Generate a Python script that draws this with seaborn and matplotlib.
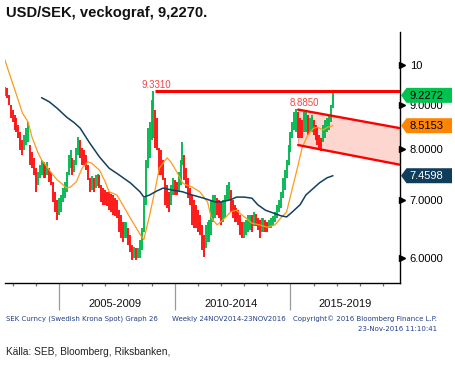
import numpy as np
import pandas as pd
import matplotlib
matplotlib.use("Agg")
import matplotlib.pyplot as plt
import seaborn as sns
from matplotlib import font_manager as fm
from matplotlib.patches import Polygon
from matplotlib.transforms import IdentityTransform, blended_transform_factory, ScaledTranslation
from matplotlib.ticker import NullLocator, FixedLocator

# ---------------- data ----------------
start_month = "2002-09-01"
highs = [9.43, 9.41, 9.24, 9.00,
         8.88, 8.76, 8.69, 8.53, 8.38, 8.20, 8.31, 8.46, 8.60, 8.09, 7.94, 7.82,
         7.61, 7.54, 7.68, 7.78, 7.74, 7.68, 7.74, 7.61, 7.54, 7.34, 7.15, 7.00,
         7.03, 7.09, 7.22, 7.34, 7.54, 7.88, 7.99, 7.82, 7.78, 8.03, 8.26, 8.20,
         8.03, 7.99, 7.88, 7.68, 7.42, 7.45, 7.42, 7.48, 7.50, 7.48, 7.28, 7.22,
         7.18, 7.15, 7.15, 7.11, 7.09, 7.03, 7.00, 6.81, 6.72, 6.60, 6.60, 6.60,
         6.50, 6.38, 6.21, 6.18, 6.16, 6.16, 6.30, 6.50, 7.03, 7.78, 8.46, 8.60,
         9.12, 9.33, 8.88, 8.69, 8.03, 7.99, 7.78, 7.42, 7.28, 7.15, 7.28, 7.42,
         7.38, 7.34, 7.54, 7.78, 8.16, 7.88, 7.61, 7.42, 7.22, 7.09, 7.00, 6.91,
         6.81, 6.72, 6.55, 6.38, 6.55, 6.60, 6.64, 7.00, 7.09, 7.09, 7.03, 7.00,
         6.96, 7.00, 7.09, 7.28, 7.34, 7.18, 7.00, 6.91, 6.85, 6.81, 6.72, 6.60,
         6.60, 6.64, 6.72, 6.72, 6.72, 6.78, 6.74, 6.67, 6.64, 6.67, 6.67, 6.64,
         6.60, 6.64, 6.67, 6.70, 6.78, 6.91, 7.00, 7.15, 7.42, 7.57, 7.78, 8.09,
         8.38, 8.60, 8.83, 8.89, 8.83, 8.69, 8.65, 8.83, 8.83, 8.76, 8.69, 8.76,
         8.65, 8.53, 8.46, 8.31, 8.24, 8.53, 8.65, 8.69, 8.76, 9.00, 9.28]
lows = [9.20, 9.17, 9.00, 8.69,
        8.60, 8.42, 8.38, 8.24, 7.99, 7.88, 7.99, 8.09, 8.16, 7.68, 7.61, 7.48,
        7.15, 7.28, 7.42, 7.48, 7.42, 7.42, 7.48, 7.34, 7.28, 6.96, 6.78, 6.64,
        6.72, 6.78, 6.96, 7.03, 7.15, 7.48, 7.61, 7.48, 7.54, 7.68, 7.88, 7.82,
        7.68, 7.68, 7.57, 7.38, 7.15, 7.18, 7.15, 7.22, 7.26, 7.22, 6.96, 6.91,
        6.91, 6.89, 6.81, 6.78, 6.72, 6.70, 6.67, 6.43, 6.33, 6.26, 6.33, 6.33,
        6.21, 6.10, 5.97, 6.00, 5.97, 6.00, 6.00, 6.13, 6.43, 6.91, 7.61, 7.82,
        8.20, 8.24, 8.03, 7.99, 7.48, 7.48, 7.38, 6.91, 6.85, 6.78, 6.91, 7.09,
        7.09, 7.09, 7.15, 7.28, 7.68, 7.38, 7.22, 7.03, 6.91, 6.55, 6.50, 6.50,
        6.43, 6.38, 6.13, 6.02, 6.16, 6.26, 6.26, 6.38, 6.60, 6.67, 6.72, 6.67,
        6.55, 6.60, 6.67, 7.00, 7.00, 6.78, 6.67, 6.60, 6.60, 6.55, 6.38, 6.33,
        6.33, 6.38, 6.43, 6.46, 6.43, 6.53, 6.53, 6.46, 6.33, 6.43, 6.43, 6.43,
        6.43, 6.50, 6.50, 6.53, 6.60, 6.67, 6.78, 6.85, 7.03, 7.18, 7.42, 7.68,
        7.94, 8.24, 8.42, 8.38, 8.24, 8.24, 8.24, 8.38, 8.38, 8.31, 8.38, 8.38,
        8.31, 8.20, 8.09, 7.99, 7.97, 8.16, 8.24, 8.38, 8.42, 8.60, 8.92]

orange_dates = ["2002-09", "2002-11", "2003-03", "2003-06", "2003-09", "2003-11", "2004-02",
                "2004-04", "2004-06", "2004-09", "2004-12", "2005-02", "2005-05", "2005-07",
                "2005-10", "2006-01", "2006-04", "2006-06", "2006-10", "2007-01", "2007-03",
                "2007-07", "2007-10", "2008-02", "2008-05", "2008-08", "2008-09", "2008-12",
                "2009-03", "2009-05", "2009-09", "2009-11", "2010-02", "2010-05", "2010-07",
                "2010-10", "2011-02", "2011-06", "2011-08", "2011-11", "2012-03", "2012-06",
                "2012-09", "2012-12", "2013-03", "2013-05", "2013-09", "2014-01", "2014-05",
                "2014-08", "2014-11", "2015-02", "2015-05", "2015-07", "2015-10", "2016-01",
                "2016-03", "2016-06", "2016-08", "2016-11"]
orange_vals = [10.13, 9.82, 9.24, 8.81, 8.60, 8.27, 7.94,
               7.78, 7.68, 7.52, 7.38, 7.32, 7.22, 7.24,
               7.34, 7.61, 7.74, 7.71, 7.57, 7.34, 7.15,
               7.09, 6.91, 6.67, 6.50, 6.34, 6.30, 6.72,
               7.22, 7.61, 7.82, 7.74, 7.54, 7.32, 7.28,
               7.24, 7.15, 6.96, 6.67, 6.55, 6.67, 6.78,
               6.81, 6.72, 6.64, 6.58, 6.55, 6.51, 6.55,
               6.67, 6.78, 7.22, 7.68, 8.03, 8.31, 8.46,
               8.48, 8.42, 8.48, 8.5153]

blue_dates = ["2004-04", "2004-08", "2004-12", "2005-05", "2005-09", "2005-12", "2006-05",
              "2006-10", "2007-03", "2007-08", "2008-02", "2008-07", "2008-09", "2008-12",
              "2009-04", "2009-07", "2009-12", "2010-05", "2010-10", "2011-04", "2011-10",
              "2012-01", "2012-06", "2012-09", "2013-01", "2013-05", "2013-08", "2013-12",
              "2014-04", "2014-08", "2014-11", "2015-02", "2015-06", "2015-09", "2016-01",
              "2016-04", "2016-08", "2016-11"]
blue_vals = [9.17, 9.07, 8.92, 8.71, 8.58, 8.46, 8.13,
             7.84, 7.61, 7.48, 7.32, 7.15, 7.05, 7.09,
             7.17, 7.22, 7.18, 7.15, 7.09, 7.03, 6.96,
             6.96, 7.00, 7.05, 7.05, 7.03, 6.91, 6.81,
             6.76, 6.71, 6.69, 6.78, 6.91, 7.09, 7.22,
             7.32, 7.42, 7.4598]

peak_date = "2009-03"
peak_level = 9.331
peak_label = "9.3310"
channel_start_label = "8.8850"
channel_x = [2015.33, 2019.73]
channel_upper = [8.885, 8.46]
channel_lower = [8.09, 7.68]

last_values = [9.2272, 8.5153, 7.4598]
last_labels = ["9.2272", "8.5153", "7.4598"]

y_ticks = [6, 7, 8, 9, 10]
y_tick_labels = ["6.0000", "7.0000", "8.0000", "9.0000", "10"]
period_labels = ["2005-2009", "2010-2014", "2015-2019"]
period_breaks = [2005, 2010, 2015]
year_ticks = list(range(2003, 2020))

title = "USD/SEK, veckograf, 9,2270."
source = "Källa: SEB, Bloomberg, Riksbanken,"

# ---------------- style ----------------
sns.set_theme(style="white")
names = {f.name for f in fm.fontManager.ttflist}
plain = "Liberation Sans" if "Liberation Sans" in names else "DejaVu Sans"
plt.rcParams["font.family"] = [plain, "DejaVu Sans"]

W, H = 456, 369
fig = plt.figure(figsize=(W / 100, H / 100), dpi=100)
fig.patch.set_facecolor("white")
ax = fig.add_axes([5 / W, (H - 283) / H, 395 / W, 251 / H])
ax.set_facecolor("white")


def dec(s):
    y, m = s.split("-")[:2]
    return int(y) + (int(m) - 1) / 12


months = pd.date_range(start=start_month, periods=len(highs), freq="MS")
t = np.array(months.year + (months.month - 1) / 12.0)
hi = np.array(highs)
lo = np.array(lows)
mid = (hi + lo) / 2
cols = ["#00b84f" if i == 0 or mid[i] >= mid[i - 1] else "#ff1010" for i in range(len(mid))]

ax.set_yscale("log")
ax.set_xlim(2002.67, 2019.73)
ax.set_ylim(5.617, 10.91)

# channel
ax.fill_between(channel_x, channel_lower, channel_upper, color="#fdd6d0", zorder=1, linewidth=0)
ax.plot(channel_x, channel_upper, color="#ff0000", lw=1.7, zorder=6)
ax.plot(channel_x, channel_lower, color="#ff0000", lw=1.7, zorder=6)
ax.plot([channel_x[0], channel_x[0]], [channel_lower[0], channel_upper[0]], color="#f7a9a0", lw=0.8, zorder=2)

# price bars
ax.vlines(t, lo, hi, colors=cols, linewidth=1.35, zorder=3)

# moving averages
df_o = pd.DataFrame({"t": [dec(d) for d in orange_dates], "v": orange_vals})
df_b = pd.DataFrame({"t": [dec(d) for d in blue_dates], "v": blue_vals})
sns.lineplot(data=df_o, x="t", y="v", color="#ff9a1a", lw=0.9, ax=ax, zorder=4)
sns.lineplot(data=df_b, x="t", y="v", color="#153f5f", lw=1.1, ax=ax, zorder=4)

# peak horizontal
peak_t = dec(peak_date)
ax.plot([peak_t, 2019.73], [peak_level, peak_level], color="#ff0000", lw=2.2, zorder=6,
        solid_capstyle="butt")
ax.text(peak_t + 0.04, peak_level * 1.004, peak_label, color="#f04848", fontsize=7,
        ha="center", va="bottom", zorder=7)
ax.text(channel_x[0] + 0.27, channel_upper[0] * 1.003, channel_start_label, color="#f04848",
        fontsize=7, ha="center", va="bottom", zorder=7)

ax.set_xlabel("")
ax.set_ylabel("")

# spines
for s in ["left", "top"]:
    ax.spines[s].set_visible(False)
for s in ["right", "bottom"]:
    ax.spines[s].set_visible(True)
    ax.spines[s].set_color("black")
    ax.spines[s].set_linewidth(1.0)

# y axis
ax.yaxis.tick_right()
ax.yaxis.set_major_locator(FixedLocator(y_ticks))
ax.yaxis.set_minor_locator(NullLocator())
ax.set_yticklabels(y_tick_labels)
ax.tick_params(axis="y", which="both", right=True, left=False, length=0, pad=7,
               labelsize=8, labelcolor="black")
trans = blended_transform_factory(ax.transAxes, ax.transData) + ScaledTranslation(2.5 / 100, 0, fig.dpi_scale_trans)
ax.plot([1.0] * len(y_ticks), y_ticks, marker=">", ls="none", ms=4, color="black",
        transform=trans, clip_on=False, zorder=8)

# x axis
ax.xaxis.set_major_locator(FixedLocator(period_breaks))
ax.xaxis.set_minor_locator(FixedLocator([y for y in year_ticks if y not in period_breaks]))
ax.set_xticklabels([])
ax.tick_params(axis="x", which="major", bottom=True, length=19.5, width=0.9, color="#9a9a9a")
ax.tick_params(axis="x", which="minor", bottom=True, length=2.5, width=0.9, color="#707070")
ax.grid(False)

# period labels
for lab, cx in zip(period_labels, [115, 231, 345]):
    fig.text(cx / W, 1 - 304 / H, lab, fontsize=8, ha="center", va="center", color="#111111")

# last value boxes
fig.canvas.draw()
box_cols = ["#00c24e", "#ff8500", "#0f3d5c"]
txt_cols = ["black", "black", "white"]
for v, lab, fc, tc in zip(last_values, last_labels, box_cols, txt_cols):
    yd = ax.transData.transform((2010, v))[1]
    verts = [(401, yd), (406.5, yd + 7.5), (452, yd + 7.5), (452, yd - 7.5), (406.5, yd - 7.5)]
    fig.add_artist(Polygon(verts, closed=True, transform=IdentityTransform(), facecolor=fc,
                           edgecolor="none", zorder=20))
    fig.text(409, yd - 0.5, lab, transform=IdentityTransform(), fontsize=8, color=tc,
             ha="left", va="center", zorder=21)

# titles and footers
fig.text(6 / W, 1 - 13 / H, title, fontsize=10.6, fontweight="bold", ha="left", va="center",
         color="#111111")
bcol = "#233f8a"
fig.text(6 / W, 1 - 319 / H, "SEK Curncy (Swedish Krona Spot) Graph 26", fontsize=5, color=bcol,
         ha="left", va="center", family=["DejaVu Sans"])
fig.text(172 / W, 1 - 319 / H, "Weekly 24NOV2014-23NOV2016", fontsize=5, color=bcol,
         ha="left", va="center", family=["DejaVu Sans"])
fig.text(437 / W, 1 - 319 / H, "Copyright\u00a9 2016 Bloomberg Finance L.P.", fontsize=5, color=bcol,
         ha="right", va="center", family=["DejaVu Sans"])
fig.text(437 / W, 1 - 329 / H, "23-Nov-2016 11:10:41", fontsize=5, color=bcol,
         ha="right", va="center", family=["DejaVu Sans"])
fig.text(6 / W, 1 - 352 / H, source, fontsize=7.3, ha="left", va="center", color="#222222")

fig.savefig("out.png", dpi=100, facecolor="white")
